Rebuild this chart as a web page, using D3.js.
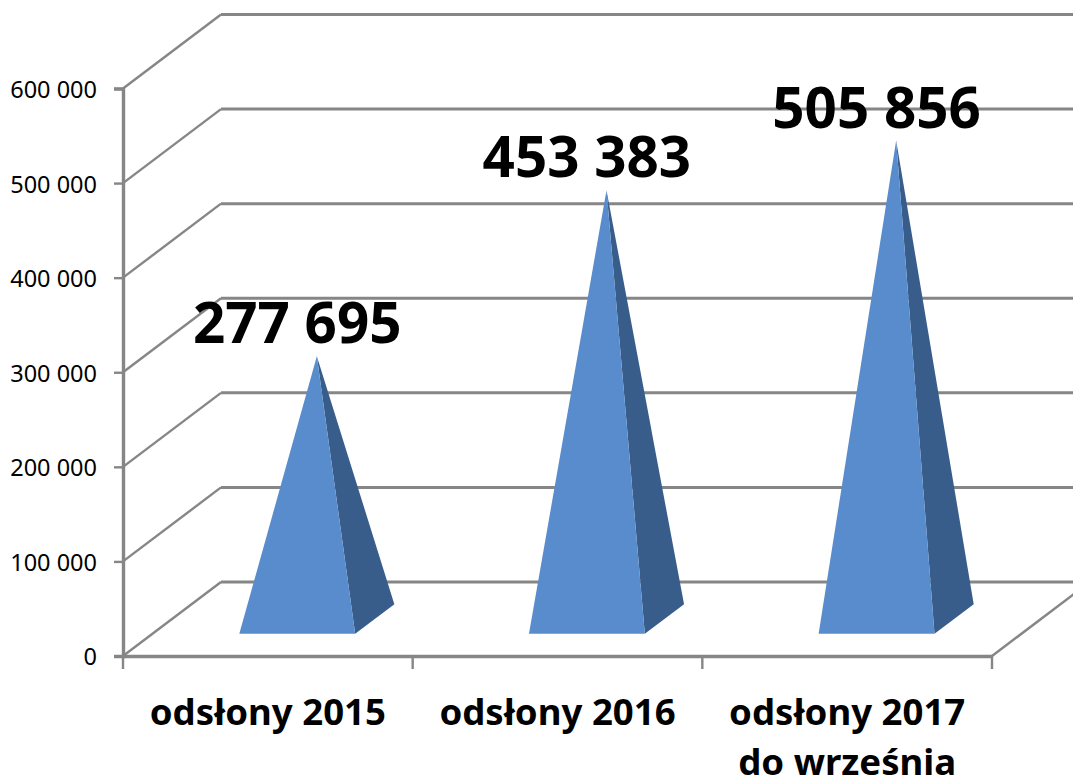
<!DOCTYPE html>
<html>
<head>
<meta charset="utf-8">
<script src="https://cdn.jsdelivr.net/npm/d3@7"></script>
<style>
html,body{margin:0;padding:0;background:#fff;overflow:hidden}
svg{display:block}
text{font-family:"Noto Sans",sans-serif}
</style>
</head>
<body>
<svg id="chart" width="1073" height="779"></svg>
<script>
const categories = [["odsłony 2015"], ["odsłony 2016"], ["odsłony 2017", "do września"]];
const values = [277695, 453383, 505856];
const labels = ["277 695", "453 383", "505 856"];
const yTicks = [0, 100000, 200000, 300000, 400000, 500000, 600000];
const yMax = 600000;

const svg = d3.select("#chart");
const W = 1073, H = 779;
const x0 = 123, x1 = 992, yBase = 656, yTop = 88.5;
const depthX = 98, depthY = 74;
const gridCol = "#868686";
const frontCol = "#588ccc", sideCol = "#385d8a";

const x = d3.scaleBand().domain(d3.range(categories.length)).range([x0, x1]).paddingInner(0).paddingOuter(0);
const y = d3.scaleLinear().domain([0, yMax]).range([yBase, yTop]);
const barFrac = 0.4, dNear = 0.30, dFar = 0.70;

const proj = (px, v, d) => [px + depthX * d, y(v) - depthY * d];
const fmt = v => d3.format(",")(v).replace(/,/g, " ");

// depth lines and back wall gridlines
const grid = svg.append("g");
grid.selectAll("path.side").data(yTicks).join("path").attr("class", "side")
  .attr("fill", "none").attr("stroke", gridCol).attr("stroke-width", 2.4)
  .attr("d", v => d3.line()([proj(x0, v, 0), proj(x0, v, 1)]));
grid.selectAll("path.back").data(yTicks).join("path").attr("class", "back")
  .attr("fill", "none").attr("stroke", gridCol).attr("stroke-width", 3)
  .attr("d", v => d3.line()([proj(x0, v, 1), proj(W + 10 - depthX, v, 1)]));
grid.append("path").attr("fill", "none").attr("stroke", gridCol).attr("stroke-width", 2.4)
  .attr("d", d3.line()([proj(x1, 0, 0), proj(x1, 0, 1)]));

// pyramids
const marks = svg.append("g").selectAll("g").data(values).join("g");
const geom = (v, i) => {
  const c = x(i) + x.bandwidth() / 2, hw = x.bandwidth() * barFrac / 2;
  return {
    fl: proj(c - hw, 0, dNear), fr: proj(c + hw, 0, dNear),
    br: proj(c + hw, 0, dFar), apex: proj(c, v, 0.5)
  };
};
marks.append("path").attr("fill", sideCol)
  .attr("d", (v, i) => { const g = geom(v, i); return d3.line()([g.fr, g.br, g.apex]) + "Z"; });
marks.append("path").attr("fill", frontCol)
  .attr("d", (v, i) => { const g = geom(v, i); return d3.line()([g.fl, g.fr, g.apex]) + "Z"; });

// axes
const yAxis = svg.append("g").attr("transform", `translate(${x0},0)`)
  .call(d3.axisLeft(y).tickValues(yTicks).tickSize(9).tickPadding(17).tickFormat(fmt));
const xAxis = svg.append("g").attr("transform", `translate(0,${yBase})`)
  .call(d3.axisBottom(x).tickSize(0).tickPadding(0).tickFormat(""));
[yAxis, xAxis].forEach(a => {
  a.selectAll(".domain").attr("stroke", gridCol).attr("stroke-width", 3.4);
  a.selectAll(".tick line").attr("stroke", gridCol).attr("stroke-width", 2.4);
});
yAxis.selectAll("text").attr("font-size", 23.5).attr("fill", "#000").attr("dy", "0.38em")
  .style("font-family", '"Noto Sans",sans-serif');

// category edge ticks
svg.append("g").selectAll("line").data(d3.range(categories.length + 1)).join("line")
  .attr("x1", i => x0 + i * x.bandwidth()).attr("x2", i => x0 + i * x.bandwidth())
  .attr("y1", yBase).attr("y2", yBase + 13)
  .attr("stroke", gridCol).attr("stroke-width", 2.4);

// category labels
const cat = svg.append("g").selectAll("text").data(categories).join("text")
  .attr("text-anchor", "middle").attr("font-size", 36.6).attr("font-weight", 700).attr("fill", "#000");
cat.selectAll("tspan").data((d, i) => d.map(t => ({ t, i }))).join("tspan")
  .attr("x", d => x(d.i) + x.bandwidth() / 2)
  .attr("y", (d, j) => 725 + j * 50)
  .text(d => d.t);

// data labels
svg.append("g").selectAll("text").data(values).join("text")
  .attr("text-anchor", "middle").attr("font-size", 56.5).attr("font-weight", 700).attr("fill", "#000")
  .attr("x", (v, i) => x(i) + x.bandwidth() / 2 + 29.4)
  .attr("y", v => y(v) - 37 - 13)
  .text((v, i) => labels[i]);
</script>
</body>
</html>
